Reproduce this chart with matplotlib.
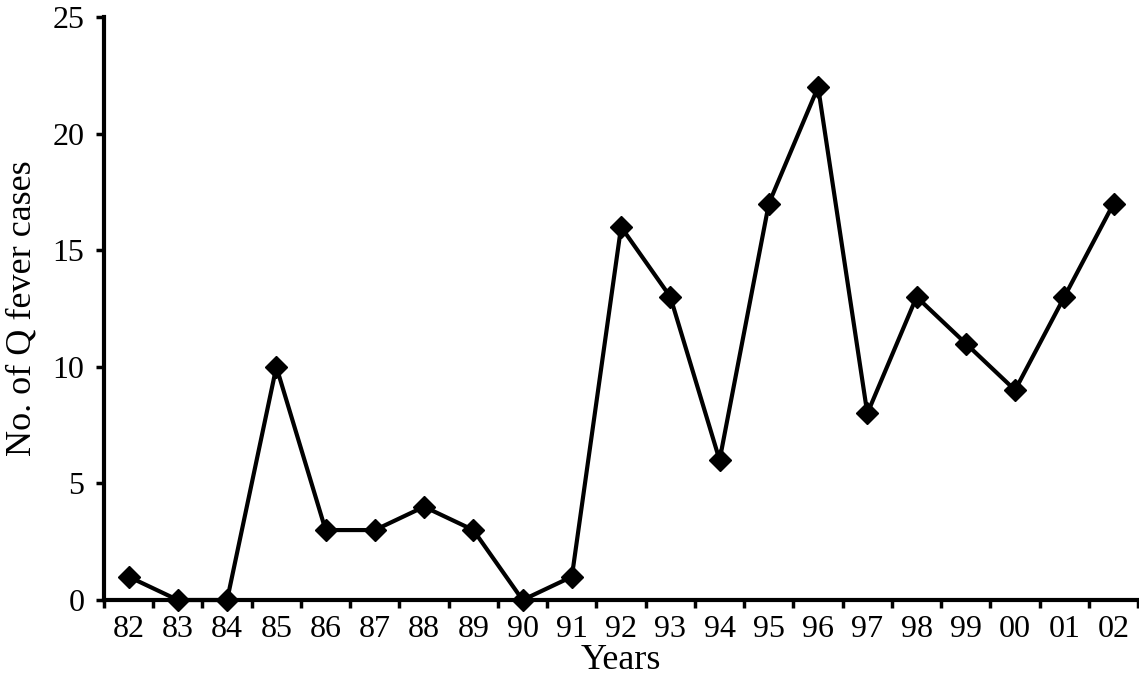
import numpy as np
import matplotlib.pyplot as plt

years = ['82', '83', '84', '85', '86', '87', '88', '89', '90', '91', '92',
         '93', '94', '95', '96', '97', '98', '99', '00', '01', '02']
cases = [1, 0, 0, 10, 3, 3, 4, 3, 0, 1, 16, 13, 6, 17, 22, 8, 13, 11, 9, 13, 17]

plt.rcParams['font.family'] = ['Liberation Serif', 'DejaVu Serif']

fig = plt.figure(figsize=(11.39, 6.83), dpi=100)
ax = fig.add_axes([0.0913, 0.1215, 0.908, 0.8535])

x = np.arange(len(years))
ax.plot(x, cases, color='black', linewidth=3, marker='D', markersize=11, clip_on=False)

ax.set_xlim(-0.5, len(years) - 0.5)
ax.set_ylim(0, 25)
ax.set_xticks(x)
ax.set_xticklabels(years)
ax.set_xticks(np.arange(len(years) + 1) - 0.5, minor=True)
ax.tick_params(axis='x', which='major', length=0, labelsize=23, pad=11)
ax.tick_params(axis='x', which='minor', direction='out', length=6, width=2.5)
ax.set_yticks([0, 5, 10, 15, 20, 25])
ax.tick_params(axis='y', direction='out', length=6, width=2.5, labelsize=23, pad=8)

for side in ['top', 'right']:
    ax.spines[side].set_visible(False)
for side in ['left', 'bottom']:
    ax.spines[side].set_linewidth(3)

ax.set_xlabel('Years', fontsize=26, labelpad=0)
ax.set_ylabel('No. of Q fever cases', fontsize=26, labelpad=10)

fig.savefig('out.png', dpi=100)
